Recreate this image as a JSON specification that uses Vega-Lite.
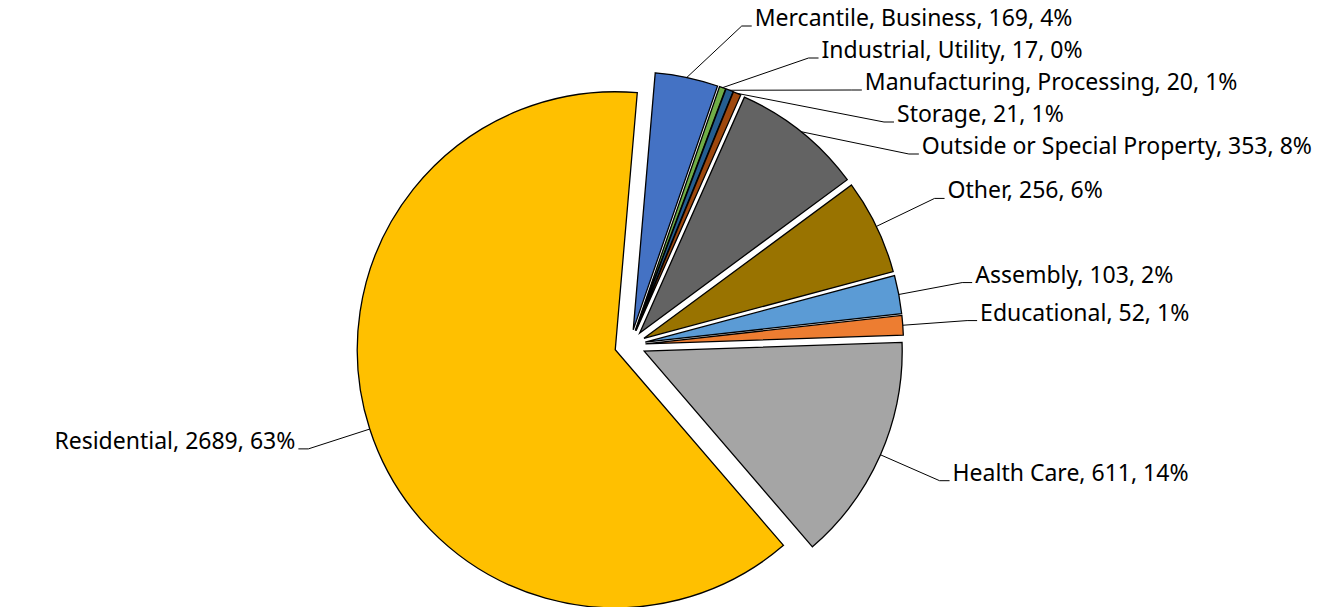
{
  "$schema": "https://vega.github.io/schema/vega-lite/v6.json",
  "width": 1344,
  "height": 607,
  "autosize": {"type": "none"},
  "padding": 0,
  "background": "white",
  "config": {"view": {"stroke": null}},
  "data": {"values": [
    {"name": "Mercantile, Business", "value": 169, "pct": 4},
    {"name": "Industrial, Utility", "value": 17, "pct": 0},
    {"name": "Manufacturing, Processing", "value": 20, "pct": 1},
    {"name": "Storage", "value": 21, "pct": 1},
    {"name": "Outside or Special Property", "value": 353, "pct": 8},
    {"name": "Other", "value": 256, "pct": 6},
    {"name": "Assembly", "value": 103, "pct": 2},
    {"name": "Educational", "value": 52, "pct": 1},
    {"name": "Health Care", "value": 611, "pct": 14},
    {"name": "Residential", "value": 2689, "pct": 63}
  ]},
  "transform": [
    {"joinaggregate": [{"op": "sum", "field": "value", "as": "total"}]},
    {"window": [{"op": "sum", "field": "value", "as": "cum"}], "frame": [null, 0]},
    {"calculate": "(datum.cum - datum.value) / datum.total", "as": "f0"},
    {"calculate": "datum.cum / datum.total", "as": "f1"},
    {"calculate": "0.0855 + PI * (datum.f0 + datum.f1)", "as": "m"},
    {"calculate": "630 + 15.5 * sin(datum.m)", "as": "cx"},
    {"calculate": "345 - 15.5 * cos(datum.m)", "as": "cy"},
    {"calculate": "630 + 273.5 * sin(datum.m)", "as": "px"},
    {"calculate": "345 - 273.5 * cos(datum.m)", "as": "py"},
    {"calculate": "sin(datum.m) > 0 ? 1 : -1", "as": "side"},
    {"calculate": "max(26, 345 - 338 * cos(datum.m))", "as": "y0"},
    {"window": [{"op": "row_number", "as": "k"}], "groupby": ["side"], "sort": [{"field": "y0", "order": "ascending"}]},
    {"calculate": "datum.y0 - 32 * datum.k", "as": "t"},
    {"window": [{"op": "max", "field": "t", "as": "tmax"}], "groupby": ["side"], "sort": [{"field": "y0", "order": "ascending"}], "frame": [null, 0]},
    {"calculate": "32 * datum.k + datum.tmax", "as": "ly"},
    {"calculate": "630 + datum.side * sqrt(max(0, 338 * 338 - (datum.ly - 345) * (datum.ly - 345)))", "as": "lx"},
    {"calculate": "datum.lx + datum.side * 10", "as": "lx2"},
    {"calculate": "datum.lx + datum.side * 13", "as": "tx"},
    {"calculate": "datum.name + ', ' + datum.value + ', ' + datum.pct + '%'", "as": "label"}
  ],
  "layer": [
    {
      "mark": {"type": "arc", "outerRadius": 258, "stroke": "black", "strokeWidth": 1.3},
      "encoding": {
        "x": {"field": "cx", "type": "quantitative", "scale": {"domain": [0, 1344], "nice": false, "zero": false}, "axis": null},
        "y": {"field": "cy", "type": "quantitative", "scale": {"domain": [0, 607], "nice": false, "zero": false, "reverse": true}, "axis": null},
        "theta": {"field": "f0", "type": "quantitative", "stack": null, "scale": {"domain": [0, 1], "range": [0.0855, 6.3687]}},
        "theta2": {"field": "f1"},
        "color": {
          "field": "name", "type": "nominal", "legend": null,
          "scale": {
            "domain": ["Mercantile, Business", "Industrial, Utility", "Manufacturing, Processing", "Storage", "Outside or Special Property", "Other", "Assembly", "Educational", "Health Care", "Residential"],
            "range": ["#4472C4", "#70AD47", "#255E91", "#9E480E", "#636363", "#997300", "#5B9BD5", "#ED7D31", "#A5A5A5", "#FFC000"]
          }
        }
      }
    },
    {
      "mark": {"type": "rule", "stroke": "black", "strokeWidth": 1},
      "encoding": {
        "x": {"field": "px", "type": "quantitative"},
        "y": {"field": "py", "type": "quantitative"},
        "x2": {"field": "lx"},
        "y2": {"field": "ly"}
      }
    },
    {
      "mark": {"type": "rule", "stroke": "black", "strokeWidth": 1},
      "encoding": {
        "x": {"field": "lx", "type": "quantitative"},
        "y": {"field": "ly", "type": "quantitative"},
        "x2": {"field": "lx2"},
        "y2": {"field": "ly"}
      }
    },
    {
      "transform": [{"filter": "datum.side > 0"}],
      "mark": {"type": "text", "align": "left", "baseline": "alphabetic", "font": "Noto Sans", "fontSize": 23, "color": "black"},
      "encoding": {
        "x": {"field": "tx", "type": "quantitative"},
        "y": {"field": "ly", "type": "quantitative"},
        "text": {"field": "label"}
      }
    },
    {
      "transform": [{"filter": "datum.side < 0"}],
      "mark": {"type": "text", "align": "right", "baseline": "alphabetic", "font": "Noto Sans", "fontSize": 23, "color": "black"},
      "encoding": {
        "x": {"field": "tx", "type": "quantitative"},
        "y": {"field": "ly", "type": "quantitative"},
        "text": {"field": "label"}
      }
    }
  ]
}
